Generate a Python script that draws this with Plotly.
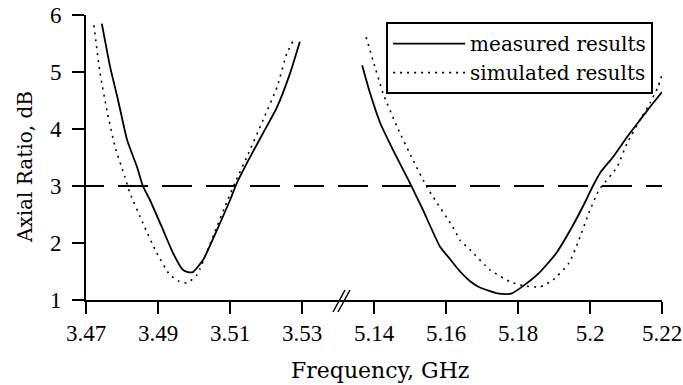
import plotly.graph_objects as go

# ---------------- data ----------------
# Lower band (GHz) and axial ratio (dB)
meas_low_f = [3.4744, 3.4767, 3.4789, 3.4814, 3.4842, 3.4858, 3.4878, 3.4914, 3.4942, 3.4969,
              3.4983, 3.4997, 3.5025, 3.5064, 3.5100, 3.5119, 3.5156, 3.5192, 3.5231, 3.5267, 3.5294]
meas_low_ar = [5.85, 5.09, 4.51, 3.81, 3.33, 3.00, 2.75, 2.23, 1.82, 1.53,
               1.49, 1.49, 1.70, 2.23, 2.75, 3.05, 3.51, 3.93, 4.39, 4.98, 5.53]

sim_low_f = [3.4722, 3.4739, 3.4758, 3.4781, 3.4808, 3.4822, 3.4858, 3.4897, 3.4933, 3.4958,
             3.4981, 3.5008, 3.5017, 3.5055, 3.5092, 3.5117, 3.5147, 3.5192, 3.5231, 3.5258, 3.5275]
sim_low_ar = [5.82, 4.98, 4.33, 3.68, 3.16, 2.88, 2.35, 1.82, 1.44, 1.33,
              1.30, 1.44, 1.55, 2.15, 2.73, 3.10, 3.51, 4.16, 4.74, 5.33, 5.54]

# Upper band
meas_high_f = [5.1367, 5.1389, 5.1417, 5.1453, 5.1500, 5.1536, 5.1583, 5.1611, 5.1639, 5.1667,
               5.1694, 5.1747, 5.1781, 5.1811, 5.1858, 5.1906, 5.1950, 5.1989, 5.2008, 5.2028,
               5.2064, 5.2103, 5.2139, 5.2167, 5.2200]
meas_high_ar = [5.12, 4.63, 4.11, 3.63, 3.05, 2.58, 1.94, 1.72, 1.50, 1.33,
                1.22, 1.11, 1.11, 1.23, 1.47, 1.82, 2.28, 2.75, 3.00, 3.23,
                3.51, 3.86, 4.16, 4.39, 4.65]

sim_high_f = [5.1378, 5.1397, 5.1425, 5.1464, 5.1508, 5.1547, 5.1564, 5.1619, 5.1639, 5.1667,
              5.1722, 5.1778, 5.1814, 5.1861, 5.1897, 5.1942, 5.1969, 5.1997, 5.2025, 5.2075,
              5.2103, 5.2139, 5.2167, 5.2189, 5.2200]
sim_high_ar = [5.61, 5.21, 4.63, 4.04, 3.46, 2.98, 2.81, 2.28, 2.05, 1.88,
               1.53, 1.32, 1.25, 1.23, 1.35, 1.65, 2.05, 2.53, 2.93, 3.33,
               3.75, 4.16, 4.46, 4.74, 4.95]

threshold_db = 3

low_ticks = [3.47, 3.49, 3.51, 3.53]
low_ticktext = ["3.47", "3.49", "3.51", "3.53"]
high_ticks = [5.14, 5.16, 5.18, 5.2, 5.22]
high_ticktext = ["5.14", "5.16", "5.18", "5.2", "5.22"]
y_ticks = [1, 2, 3, 4, 5, 6]

legend_names = ["measured results", "simulated results"]

# ---------------- figure ----------------
BREAK = 3.5 / 8.0
TICKFONT = dict(family="Liberation Serif", size=23, color="black")
TEXTFONT = dict(family="DejaVu Serif", size=20, color="black")

solid = dict(color="black", width=1.8, shape="spline", smoothing=0.5)
dotted = dict(color="black", width=1.6, dash="2px,5px", shape="spline", smoothing=0.5)

fig = go.Figure()
fig.add_trace(go.Scatter(x=meas_low_f, y=meas_low_ar, mode="lines", line=solid,
                         name=legend_names[0], legendgroup="m", xaxis="x", yaxis="y"))
fig.add_trace(go.Scatter(x=sim_low_f, y=sim_low_ar, mode="lines", line=dotted,
                         name=legend_names[1], legendgroup="s", xaxis="x", yaxis="y"))
fig.add_trace(go.Scatter(x=meas_high_f, y=meas_high_ar, mode="lines", line=solid,
                         name=legend_names[0], legendgroup="m", showlegend=False,
                         xaxis="x2", yaxis="y"))
fig.add_trace(go.Scatter(x=sim_high_f, y=sim_high_ar, mode="lines", line=dotted,
                         name=legend_names[1], legendgroup="s", showlegend=False,
                         xaxis="x2", yaxis="y"))

axis_common = dict(showline=True, linecolor="black", linewidth=2, ticks="outside",
                   ticklen=12, tickwidth=2, tickcolor="black", showgrid=False,
                   zeroline=False, tickfont=TICKFONT, automargin=False)

fig.update_layout(
    width=683, height=385,
    margin=dict(l=86, r=21, t=15, b=85, autoexpand=False),
    paper_bgcolor="white", plot_bgcolor="white",
    xaxis=dict(domain=[0, BREAK], range=[3.47, 3.54], tickvals=low_ticks,
               ticktext=low_ticktext, anchor="y", ticklabelstandoff=-1, **axis_common),
    xaxis2=dict(domain=[BREAK, 1], range=[5.13, 5.22], tickvals=high_ticks,
                ticktext=high_ticktext, anchor="y", ticklabelstandoff=-1, **axis_common),
    yaxis=dict(range=[1, 6], tickvals=y_ticks, anchor="x", ticklabelstandoff=6,
               **axis_common),
    legend=dict(x=0.521, y=0.975, xanchor="left", yanchor="top",
                bordercolor="black", borderwidth=2, bgcolor="white",
                font=TEXTFONT, itemwidth=72, tracegroupgap=0),
    showlegend=True,
)

# threshold dashed line (starts at the y tick, extends across both segments)
fig.add_shape(type="line", xref="paper", yref="y", x0=-12 / 576, x1=1.0,
              y0=threshold_db, y1=threshold_db,
              line=dict(color="black", width=2, dash="30px,14px"))

# axis break mark "//"
for dx in (0, 5):
    fig.add_shape(type="line", xref="paper", yref="paper",
                  x0=(333 + dx - 86) / 576, x1=(345 + dx - 86) / 576,
                  y0=-12 / 285, y1=10 / 285,
                  line=dict(color="black", width=1.5))

# axis titles
fig.add_annotation(text="Frequency, GHz", xref="paper", yref="paper",
                   x=(380 - 86) / 576, y=(300 - 384) / 285, xanchor="center",
                   yanchor="bottom", showarrow=False, borderpad=0,
                   font=dict(family="DejaVu Serif", size=22, color="black"))
fig.add_annotation(text="Axial Ratio, dB", xref="paper", yref="paper",
                   x=(25 - 86) / 576, y=(300 - 167) / 285, xanchor="center",
                   yanchor="middle", textangle=-90, showarrow=False,
                   font=dict(family="DejaVu Serif", size=20, color="black"))

fig.write_html("out.html")
